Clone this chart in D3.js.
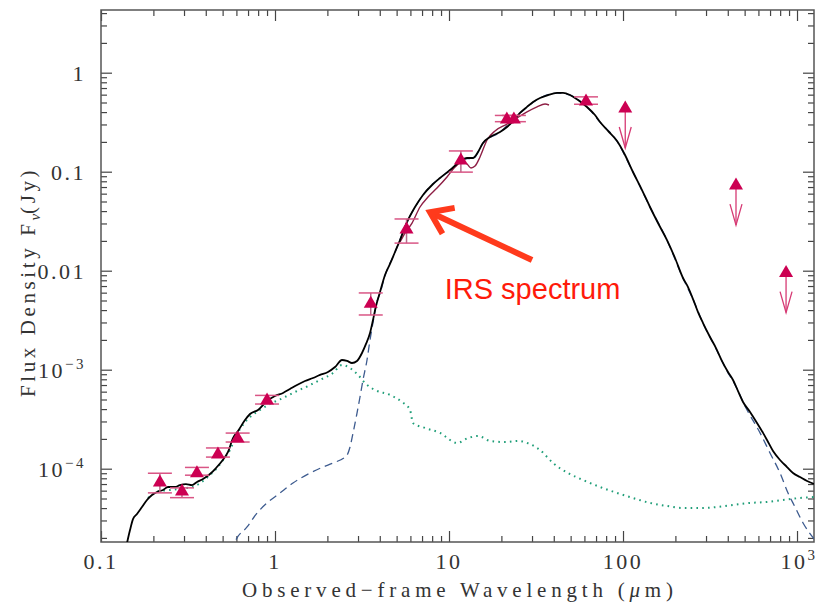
<!DOCTYPE html>
<html><head><meta charset="utf-8">
<script src="https://cdn.jsdelivr.net/npm/d3@7"></script>
<style>body{margin:0;background:#fff}</style>
</head><body><svg id="c" width="818" height="603"></svg>
<script>
// ---------- data ----------
const xTickValues = [0.1, 1, 10, 100, 1000];
const xTickLabels = [["0.1"], ["1"], ["10"], ["100"], ["10", "3"]];
const yTickValues = [1, 0.1, 0.01, 1e-3, 1e-4];
const yTickLabels = [["1"], ["0.1"], ["0.01"], ["10", "\u22123"], ["10", "\u22124"]];

// photometry (detections) : wavelength (um), flux (Jy), lower / upper error
const photWave = [0.218, 0.292, 0.356, 0.47, 0.61, 0.90, 3.55, 5.7, 11.7, 21.5, 23.6, 61.3];
const photFlux = [7.5e-5, 6.1e-5, 9.3e-5, 1.44e-4, 2.09e-4, 5.06e-4, 4.8e-3, 0.027, 0.134, 0.348, 0.348, 0.53];
const photLo   = [5.7e-5, 5.1e-5, 8.6e-5, 1.31e-4, 1.86e-4, 4.5e-4, 3.57e-3, 0.019, 0.099, 0.32, 0.32, 0.48];
const photHi   = [9.0e-5, 6.4e-5, 1.03e-4, 1.62e-4, 2.29e-4, 5.5e-4, 5.96e-3, 0.0333, 0.162, 0.37, 0.37, 0.57];

// upper limits
const limWave = [103, 446, 865];
const limFlux = [0.45, 0.075, 0.0098];

// total model (solid black)
const totalWave = [0.137,0.1468,0.1527,0.161,0.172,0.1838,0.1964,0.2098,0.2272,0.2427,0.2662,0.2844,0.3079,0.3334,0.3562,0.3857,0.423,0.458,0.496,0.537,0.5735,0.6128,0.6723,0.7183,0.7986,0.8994,1.0,1.112,1.219,1.338,1.487,1.653,1.814,2.016,2.212,2.427,2.593,2.77,2.96,3.162,3.334,3.516,3.658,3.806,4.013,4.287,4.58,4.894,5.23,5.737,6.377,7.088,7.988,8.878,10.13,11.12,11.88,12.69,13.74,14.68,15.68,17.21,19.64,21.54,23.33,25.59,28.07,30.4,33.34,37.07,41.76,45.21,49.6,55.13,62.1,69.0,73.8,82.0,92.4,102.7,114.1,128.6,142.9,158.9,179.0,199.0,221.2,236.4,252.5,269.8,288.3,316.2,342.3,370.7,401.2,428.7,458.2,489.5,537.0,589.0,637.8,672.4,728.0,798.6,876.0,948.5,1040,1142,1252];
const totalFlux = [1.4e-5,2.4e-5,3.1e-5,3.49e-5,4.1e-5,4.83e-5,5.42e-5,5.82e-5,6.09e-5,6.53e-5,6.53e-5,6.84e-5,7.0e-5,6.84e-5,7.34e-5,7.87e-5,8.83e-5,1.016e-4,1.196e-4,1.476e-4,2.04e-4,2.4e-4,3.1e-4,3.57e-4,3.92e-4,4.83e-4,5.43e-4,5.82e-4,6.38e-4,7.01e-4,7.69e-4,8.24e-4,8.85e-4,9.48e-4,1.064e-3,1.253e-3,1.225e-3,1.169e-3,1.225e-3,1.475e-3,1.82e-3,2.35e-3,3.18e-3,4.4e-3,6.09e-3,9.05e-3,1.17e-2,1.545e-2,2.04e-2,3.1e-2,4.4e-2,5.82e-2,7.34e-2,8.63e-2,0.104,0.1197,0.1313,0.1375,0.1375,0.158,0.195,0.224,0.252,0.283,0.325,0.392,0.451,0.506,0.555,0.595,0.624,0.624,0.595,0.53,0.45,0.374,0.318,0.258,0.204,0.1475,0.0993,0.0653,0.044,0.0303,0.0204,0.01343,8.44e-3,6.84e-3,5.17e-3,3.82e-3,2.96e-3,2.14e-3,1.655e-3,1.223e-3,9.47e-4,7.87e-4,6.09e-4,4.72e-4,3.74e-4,2.9e-4,2.3e-4,1.95e-4,1.51e-4,1.225e-4,1.04e-4,9.04e-5,8.24e-5,7.51e-5,7.0e-5];

// dust / AGN component (dashed)
const dustWave = [0.566,0.589,0.691,0.788,0.899,1.068,1.269,1.589,1.888,2.154,2.593,2.698,2.808,2.96,3.079,3.204,3.379,3.516,3.658,3.857,4.013,4.287,4.894,5.737,7.088,10.13,12.69,13.74,15.68,19.64,25.59,33.34,41.76,49.6,62.1,73.8,92.4,114.1,142.9,179.0,221.2,252.5,288.3,342.3,401.2,428.7,516.1,613.1,699.5,798.6,887.9,973.9,1083,1269];
const dustFlux = [1.44e-5,1.82e-5,2.58e-5,3.56e-5,4.5e-5,5.68e-5,7.16e-5,9.04e-5,1.04e-4,1.14e-4,1.374e-4,1.655e-4,2.29e-4,3.65e-4,5.3e-4,7.87e-4,1.253e-3,2.0e-3,3.0e-3,4.9e-3,5.9e-3,8.9e-3,1.53e-2,3.08e-2,5.8e-2,0.103,0.136,0.136,0.194,0.251,0.391,0.554,0.623,0.594,0.449,0.317,0.203,0.099,0.0439,0.0203,8.4e-3,5.15e-3,2.94e-3,1.63e-3,9.3e-4,7.7e-4,3.92e-4,2.3e-4,1.44e-4,9.04e-5,5.68e-5,4.1e-5,2.83e-5,1.9e-5];

// stellar component (dotted)
const starWave = [0.1862,0.199,0.2183,0.2492,0.2771,0.312,0.3468,0.3857,0.423,0.4642,0.5025,0.5512,0.5969,0.6461,0.7183,0.82,0.936,1.112,1.303,1.548,1.814,2.154,2.427,2.698,3.0,3.334,3.756,4.58,5.37,5.97,6.21,7.278,8.878,11.12,12.86,14.68,17.21,20.98,24.93,29.21,33.34,39.61,48.3,58.9,73.8,92.4,114.1,142.9,179.0,221.2,277.0,346.9,428.7,537.0,672.4,831,1040,1269];
const starFlux = [5.06e-5,5.55e-5,5.96e-5,6.09e-5,6.24e-5,6.38e-5,6.68e-5,7.51e-5,8.63e-5,1.016e-4,1.225e-4,1.545e-4,2.14e-4,2.7e-4,3.33e-4,3.92e-4,4.51e-4,5.18e-4,5.96e-4,6.84e-4,7.87e-4,9.26e-4,1.116e-3,1.04e-3,8.85e-4,7.18e-4,6.24e-4,5.56e-4,4.72e-4,3.92e-4,2.89e-4,2.58e-4,2.3e-4,1.82e-4,2.04e-4,2.14e-4,1.91e-4,1.86e-4,1.91e-4,1.77e-4,1.545e-4,1.14e-4,9.04e-5,7.69e-5,6.53e-5,5.69e-5,5.06e-5,4.51e-5,4.2e-5,4.01e-5,4.01e-5,4.1e-5,4.3e-5,4.51e-5,4.61e-5,4.83e-5,5.06e-5,5.18e-5];

// Spitzer IRS spectrum
const irsWave = [5.23,5.586,6.13,6.813,7.574,8.531,9.739,10.83,11.88,12.69,13.38,14.11,15.07,16.54,18.38,21.54,24.59,28.07,32.04,35.62,37.55];
const irsFlux = [0.0195,0.024,0.0303,0.044,0.0555,0.0684,0.0884,0.1114,0.1253,0.1197,0.109,0.114,0.1408,0.209,0.258,0.303,0.349,0.401,0.451,0.483,0.472];

// annotation (data coordinates)
const annTip = [7.78, 0.039];
const annTail = [30.0, 0.0128];
const annText = "IRS spectrum";
const annTextPos = [9.45, 5.2e-3];

// ---------- drawing ----------
const L = 101, R = 814, T = 10, B = 542;
const svg = d3.select("#c");
const x = d3.scaleLog().domain([0.1, 1252]).range([L, R]);
const y = d3.scaleLog().domain([1.818e-5, 4.298]).range([B, T]);

svg.append("defs").append("clipPath").attr("id", "clip")
  .append("rect").attr("x", L).attr("y", T).attr("width", R - L).attr("height", B - T);

// minor ticks
const xMinor = [], yMinor = [];
for (let d = -1; d <= 3; d++) for (let m = 2; m <= 9; m++) { const v = m * Math.pow(10, d); if (v < 1252) xMinor.push(v); }
for (let d = -5; d <= 0; d++) for (let m = 2; m <= 9; m++) { const v = m * Math.pow(10, d); if (v > 1.818e-5 && v < 4.298) yMinor.push(v); }

function addAxis(gen, tx, ty) {
  const g = svg.append("g").attr("transform", `translate(${tx},${ty})`).call(gen);
  g.select(".domain").remove();
  g.selectAll("line").attr("stroke", "#444").attr("stroke-width", 1.2);
  g.selectAll("text").remove();
}
[[d3.axisBottom, 0, B, x, xTickValues, xMinor], [d3.axisTop, 0, T, x, xTickValues, xMinor],
 [d3.axisLeft, L, 0, y, yTickValues, yMinor], [d3.axisRight, R, 0, y, yTickValues, yMinor]].forEach(([f, tx, ty, s, maj, min]) => {
  addAxis(f(s).tickValues(maj).tickSize(-11).tickSizeOuter(0).tickFormat(""), tx, ty);
  addAxis(f(s).tickValues(min).tickSize(-6).tickSizeOuter(0).tickFormat(""), tx, ty);
});

svg.append("rect").attr("x", L).attr("y", T).attr("width", R - L).attr("height", B - T)
  .attr("fill", "none").attr("stroke", "#555").attr("stroke-width", 1.5);

// tick labels
const tickFont = "'Liberation Serif', 'DejaVu Serif', serif";
xTickValues.forEach((v, i) => {
  const t = svg.append("text").attr("x", x(v) + (xTickLabels[i].length > 1 ? 2 : 0)).attr("y", 569)
    .attr("text-anchor", "middle").attr("font-family", tickFont).attr("font-size", 22)
    .attr("letter-spacing", 2.5).attr("fill", "#333");
  t.append("tspan").text(xTickLabels[i][0]);
  if (xTickLabels[i][1]) t.append("tspan").attr("dy", -9).attr("font-size", 15).text(xTickLabels[i][1]);
});
yTickValues.forEach((v, i) => {
  const t = svg.append("text").attr("x", 86).attr("y", y(v) + 8)
    .attr("text-anchor", "end").attr("font-family", tickFont).attr("font-size", 22)
    .attr("letter-spacing", 2.5).attr("fill", "#333");
  t.append("tspan").text(yTickLabels[i][0]);
  if (yTickLabels[i][1]) t.append("tspan").attr("dy", -9).attr("font-size", 15).text(yTickLabels[i][1]);
});

// axis titles
svg.append("text").attr("x", 242).attr("y", 597).attr("font-family", tickFont).attr("font-size", 21)
  .attr("fill", "#333").attr("textLength", 431).attr("lengthAdjust", "spacing")
  .html("Observed\u2212frame Wavelength (<tspan font-style='italic'>\u03bc</tspan>m)");
const yt = svg.append("text").attr("transform", "translate(35,397) rotate(-90)")
  .attr("font-family", tickFont).attr("font-size", 21).attr("fill", "#333");
yt.append("tspan").text("Flux Density F").attr("letter-spacing", 3.6);
yt.append("tspan").attr("dy", 5).attr("font-size", 15).attr("font-style", "italic").text("\u03bd");
yt.append("tspan").attr("dy", -5).attr("letter-spacing", 3.6).text("(Jy)");

// curves
const line = d3.line().x(d => x(d[0])).y(d => y(d[1])).curve(d3.curveMonotoneX);
const plot = svg.append("g").attr("clip-path", "url(#clip)");
const zip = (a, b) => a.map((v, i) => [v, b[i]]);

plot.append("path").attr("d", line(zip(starWave, starFlux))).attr("fill", "none")
  .attr("stroke", "#1f9e78").attr("stroke-width", 2).attr("stroke-dasharray", "1.6,4.2").attr("stroke-linecap", "butt");
plot.append("path").attr("d", line(zip(dustWave, dustFlux))).attr("fill", "none")
  .attr("stroke", "#3d5b8f").attr("stroke-width", 1.3).attr("stroke-dasharray", "8,5");
plot.append("path").attr("d", line(zip(irsWave, irsFlux))).attr("fill", "none")
  .attr("stroke", "#8e1f45").attr("stroke-width", 1.4);
plot.append("path").attr("d", line(zip(totalWave, totalFlux))).attr("fill", "none")
  .attr("stroke", "#000").attr("stroke-width", 1.8);

// error bars and triangles
const triPath = "M0,-6.5L7,5.5L-7,5.5Z";
const tri = "#cc0052";
photWave.forEach((w, i) => {
  const cx = x(w);
  plot.append("line").attr("x1", cx).attr("x2", cx).attr("y1", y(photLo[i])).attr("y2", y(photHi[i]))
    .attr("stroke", "#b86a8a").attr("stroke-width", 1.5);
  [photLo[i], photHi[i]].forEach(v => plot.append("line").attr("x1", cx - 12).attr("x2", cx + 12)
    .attr("y1", y(v)).attr("y2", y(v)).attr("stroke", "#d95585").attr("stroke-width", 1.5));
});
photWave.forEach((w, i) => {
  plot.append("path").attr("d", triPath).attr("transform", `translate(${x(w)},${y(photFlux[i])})`).attr("fill", tri);
});
limWave.forEach((w, i) => {
  const cx = x(w), cy = y(limFlux[i]);
  const tip = cy + 41;
  plot.append("line").attr("x1", cx).attr("x2", cx).attr("y1", cy + 5).attr("y2", tip)
    .attr("stroke", "#d63a74").attr("stroke-width", 1.3);
  plot.append("path").attr("d", `M${cx - 6},${tip - 21}L${cx},${tip}L${cx + 6},${tip - 21}`)
    .attr("fill", "none").attr("stroke", "#d63a74").attr("stroke-width", 1.3);
  plot.append("path").attr("d", triPath).attr("transform", `translate(${cx},${cy})`).attr("fill", tri);
});

// annotation
const tx0 = x(annTip[0]), ty0 = y(annTip[1]), tx1 = x(annTail[0]), ty1 = y(annTail[1]);
const ang = Math.atan2(ty1 - ty0, tx1 - tx0), hl = 25, ha = 35 * Math.PI / 180;
const arrowCol = "#ff3a1c";
svg.append("line").attr("x1", tx1).attr("y1", ty1).attr("x2", tx0 + 3 * Math.cos(ang)).attr("y2", ty0 + 3 * Math.sin(ang))
  .attr("stroke", arrowCol).attr("stroke-width", 6);
svg.append("path")
  .attr("d", `M${tx0 + hl * Math.cos(ang - ha)},${ty0 + hl * Math.sin(ang - ha)}L${tx0},${ty0}L${tx0 + hl * Math.cos(ang + ha)},${ty0 + hl * Math.sin(ang + ha)}`)
  .attr("fill", "none").attr("stroke", arrowCol).attr("stroke-width", 6).attr("stroke-linejoin", "miter");
svg.append("text").attr("x", x(annTextPos[0])).attr("y", y(annTextPos[1]))
  .attr("font-family", "'Liberation Sans', Arial, sans-serif").attr("font-size", 29).attr("fill", "#ff1a0a")
  .text(annText);
</script></body></html>
